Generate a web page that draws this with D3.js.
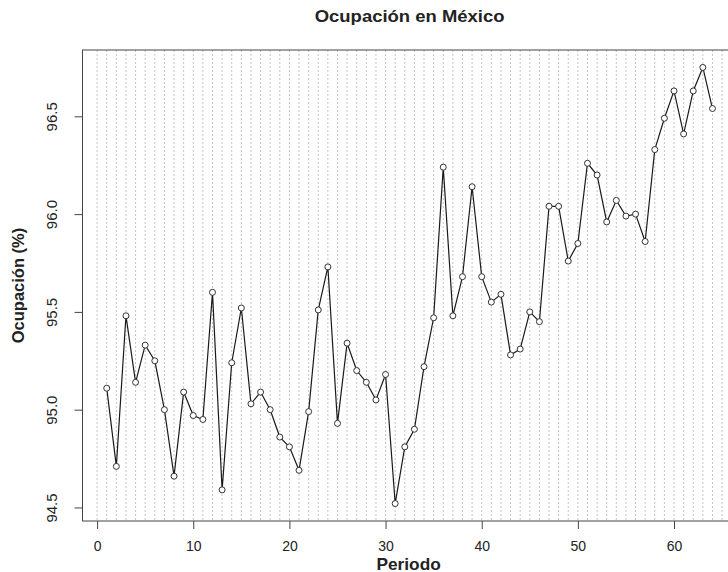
<!DOCTYPE html>
<html>
<head>
<meta charset="utf-8">
<script src="https://cdn.jsdelivr.net/npm/d3@7"></script>
<style>
  body { margin: 0; background: #fff; }
  text { font-family: "Liberation Sans", Arial, sans-serif; fill: #222; }
</style>
</head>
<body>
<svg id="chart" width="728" height="572"></svg>
<script>
// ---- data ----
const periods = d3.range(1, 65);
const ocupacion = [
  95.11, 94.71, 95.48, 95.14, 95.33, 95.25, 95.00, 94.66, 95.09, 94.97,
  94.95, 95.60, 94.59, 95.24, 95.52, 95.03, 95.09, 95.00, 94.86, 94.81,
  94.69, 94.99, 95.51, 95.73, 94.93, 95.34, 95.20, 95.14, 95.05, 95.18,
  94.52, 94.81, 94.90, 95.22, 95.47, 96.24, 95.48, 95.68, 96.14, 95.68,
  95.55, 95.59, 95.28, 95.31, 95.50, 95.45, 96.04, 96.04, 95.76, 95.85,
  96.26, 96.20, 95.96, 96.07, 95.99, 96.00, 95.86, 96.33, 96.49, 96.63,
  96.41, 96.63, 96.75, 96.54
];
const xTicks = [0, 10, 20, 30, 40, 50, 60];
const yTicks = [94.5, 95.0, 95.5, 96.0, 96.5];
const gridPeriods = d3.range(0, 67);

const svg = d3.select("#chart");

// plot region (R style, 4% padding on the data range)
const plotLeft = 82.5, plotTop = 50, plotBottom = 521, plotRight = 736.7;

const xr = d3.extent(periods), yr = d3.extent(ocupacion);
const xPad = (xr[1] - xr[0]) * 0.04, yPad = (yr[1] - yr[0]) * 0.04;

const x = d3.scaleLinear().domain([xr[0] - xPad, xr[1] + xPad]).range([plotLeft, plotRight]);
const y = d3.scaleLinear().domain([yr[0] - yPad, yr[1] + yPad]).range([plotBottom, plotTop]);

// vertical dotted grid, one per period
svg.append("g")
  .selectAll("line")
  .data(gridPeriods)
  .join("line")
  .attr("x1", d => x(d)).attr("x2", d => x(d))
  .attr("y1", plotTop).attr("y2", plotBottom)
  .attr("stroke", "#c4c4c4")
  .attr("stroke-width", 1)
  .attr("stroke-dasharray", "2,2");

// axes
const xAxis = d3.axisBottom(x).tickValues(xTicks).tickSize(8).tickPadding(12).tickFormat(d3.format("d"));
const gx = svg.append("g").attr("transform", `translate(0,${plotBottom})`).call(xAxis);
gx.select(".domain").remove();
gx.selectAll("line").attr("stroke", "#444");
gx.selectAll("text").style("font-size", "14px").attr("fill", "#333");

const yAxis = d3.axisLeft(y).tickValues(yTicks).tickSize(8).tickFormat(d3.format(".1f"));
const gy = svg.append("g").attr("transform", `translate(${plotLeft},0)`).call(yAxis);
gy.select(".domain").remove();
gy.selectAll("line").attr("stroke", "#444");
gy.selectAll("text")
  .attr("x", null).attr("dy", null)
  .attr("transform", "translate(-25.5,0) rotate(-90)")
  .attr("text-anchor", "middle")
  .style("font-size", "15px")
  .attr("fill", "#333");

// box
svg.append("rect")
  .attr("x", plotLeft).attr("y", plotTop)
  .attr("width", plotRight - plotLeft).attr("height", plotBottom - plotTop)
  .attr("fill", "none")
  .attr("stroke", "#444")
  .attr("stroke-width", 1);

// series
const pts = periods.map((p, i) => ({ p: p, v: ocupacion[i] }));

svg.append("path")
  .datum(pts)
  .attr("fill", "none")
  .attr("stroke", "#1a1a1a")
  .attr("stroke-width", 1.2)
  .attr("d", d3.line().x(d => x(d.p)).y(d => y(d.v)));

svg.append("g")
  .selectAll("circle")
  .data(pts)
  .join("circle")
  .attr("cx", d => x(d.p))
  .attr("cy", d => y(d.v))
  .attr("r", 3)
  .attr("fill", "#fff")
  .attr("stroke", "#333")
  .attr("stroke-width", 1);

// labels
svg.append("text")
  .attr("transform", `translate(${(plotLeft + plotRight) / 2},21.5) scale(1.12,1)`)
  .attr("text-anchor", "middle")
  .style("font-size", "16.5px")
  .style("font-weight", "bold")
  .text("Ocupación en México");

svg.append("text")
  .attr("transform", `translate(${(plotLeft + plotRight) / 2 - 1},569.5) scale(1.08,1)`)
  .attr("text-anchor", "middle")
  .style("font-size", "16px")
  .style("font-weight", "bold")
  .text("Periodo");

svg.append("text")
  .attr("transform", `translate(24,${(plotTop + plotBottom) / 2}) rotate(-90)`)
  .attr("text-anchor", "middle")
  .style("font-size", "16.5px")
  .style("font-weight", "bold")
  .text("Ocupación (%)");
</script>
</body>
</html>
